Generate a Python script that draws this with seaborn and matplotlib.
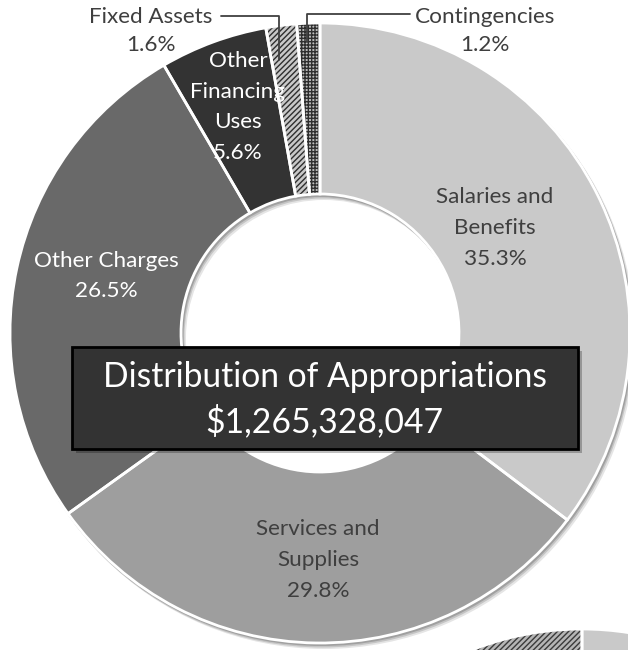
import matplotlib
matplotlib.use("Agg")
import matplotlib.pyplot as plt
import seaborn as sns
from matplotlib.patches import Wedge, Rectangle

# ---- data -------------------------------------------------------------
categories = ["Salaries and Benefits", "Services and Supplies", "Other Charges",
              "Other Financing Uses", "Fixed Assets", "Contingencies"]
shares = [35.3, 29.8, 26.5, 5.6, 1.6, 1.2]
label_texts = ["Salaries and\nBenefits\n35.3%", "Services and\nSupplies\n29.8%",
               "Other Charges\n26.5%", "Other\nFinancing\nUses\n5.6%",
               "Fixed Assets\n1.6%", "Contingencies\n1.2%"]
title_lines = ["Distribution of Appropriations", "$1,265,328,047"]

# top of the following chart, partially visible in the corner
next_shares = [40.0, 52.0, 8.0]

# ---- style ------------------------------------------------------------
sns.set_theme(style="white")
plt.rcParams["font.family"] = ["Lato", "DejaVu Sans"]
plt.rcParams["hatch.linewidth"] = 1.0

palette = sns.color_palette(["#c9c9c9", "#9e9e9e", "#696969", "#333333", "#c8c8c8", "#bdbdbd"])
hatches = [None, None, None, None, "//////", "+++++"]
text_dark = "#3f3f3f"

W, H = 628, 650
fig = plt.figure(figsize=(W / 100, H / 100), dpi=100)
ax = fig.add_axes([0, 0, 1, 1])

cx, cy = 320, H - 333
R_out, R_in = 310, 139
ring = R_out - R_in

# soft drop shadow under the ring
for off, a in [((4, -5), 0.10), ((2.5, -3.5), 0.14), ((1.5, -2), 0.18)]:
    ax.add_patch(Wedge((cx + off[0], cy + off[1]), R_out + 1, 0, 360, width=ring + 2,
                       facecolor="black", edgecolor="none", alpha=a, zorder=1))

wedges, _ = ax.pie(shares, colors=palette, startangle=90, counterclock=False,
                   radius=R_out, center=(cx, cy), frame=True,
                   wedgeprops=dict(width=ring, edgecolor="none", linewidth=0))
for w, h in zip(wedges, hatches):
    w.set_zorder(2)
    if h:
        w.set_hatch(h)
        w.set_edgecolor("#2e2e2e")
        w.set_linewidth(0)
    # white separators and outline
    ax.add_patch(Wedge(w.center, w.r, w.theta1, w.theta2, width=w.width,
                       facecolor="none", edgecolor="white", linewidth=2, zorder=3))

# partially visible ring at the bottom right corner
nw, _ = ax.pie(next_shares, colors=["#c9c9c9", "#9e9e9e", "#b5b5b5"], startangle=90,
               counterclock=False, radius=300, center=(582, H - 929), frame=True,
               wedgeprops=dict(width=150, edgecolor="none", linewidth=0))
nw[2].set_hatch("//////")
nw[2].set_edgecolor("#3a3a3a")
for w in nw:
    ax.add_patch(Wedge(w.center, w.r, w.theta1, w.theta2, width=w.width,
                       facecolor="none", edgecolor="white", linewidth=2, zorder=3))

ax.set_xlim(0, W)
ax.set_ylim(0, H)
ax.axis("off")

# ---- slice labels -----------------------------------------------------
fs = 16.2
ls = 1.68
inside = [
    (0, 495, 228, text_dark),
    (1, 318, 560, text_dark),
    (2, 106, 276, "white"),
    (3, 238, 107, "white"),
]
for i, x, y, c in inside:
    ax.text(x, H - y, label_texts[i], ha="center", va="center", fontsize=fs,
            color=c, linespacing=ls, zorder=5)

ax.text(151, H - 31, label_texts[4], ha="center", va="center", fontsize=fs,
        color=text_dark, linespacing=1.55, zorder=5)
ax.text(485, H - 31, label_texts[5], ha="center", va="center", fontsize=fs,
        color=text_dark, linespacing=1.55, zorder=5)

# leader lines
ax.plot([221, 279, 279], [H - 16, H - 16, H - 60], color="#404040", lw=1.3, zorder=6)
ax.plot([410, 307, 307], [H - 14, H - 14, H - 42], color="#404040", lw=1.3, zorder=6)

# ---- centre title box -------------------------------------------------
bx0, bx1, by0, by1 = 72, 578, 347, 449
ax.add_patch(Rectangle((bx0 + 4, H - by1 - 4), bx1 - bx0, by1 - by0,
                       facecolor="black", edgecolor="none", alpha=0.25, zorder=6))
ax.add_patch(Rectangle((bx0, H - by1), bx1 - bx0, by1 - by0,
                       facecolor="#333333", edgecolor="black", linewidth=2, zorder=7))
ax.text(325, H - 377, title_lines[0], ha="center", va="center", fontsize=24.2,
        color="white", zorder=8)
ax.text(324, H - 421, title_lines[1], ha="center", va="center", fontsize=24.2,
        color="white", zorder=8)

fig.savefig("out.png", dpi=100, facecolor="white")
